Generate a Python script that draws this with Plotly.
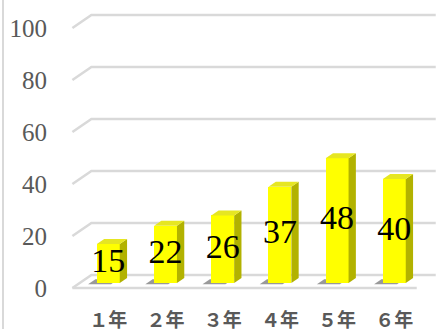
import plotly.graph_objects as go

# ---- data ----
categories = ["１年", "２年", "３年", "４年", "５年", "６年"]
values = [15, 22, 26, 37, 48, 40]
y_ticks = [0, 20, 40, 60, 80, 100]

# ---- figure geometry ----
W, H = 440, 329
ML, MB = 55, 29            # left / bottom margins (px)
PX_X = 57.2                # px per category step
PX_Y = 2.6                 # px per value unit
FLOOR_X_PX, FLOOR_Y_PX = 101, 288   # pixel of world (0, 0) on the front floor edge

# oblique projection of depth d in [0, 1] (front wall -> back wall)
DX = 19 / PX_X
DY = 13 / PX_Y
D0, D1 = 0.385, 0.77       # bar depth span
BAR_W = 0.40
WALL_L, WALL_R = -0.5, 5.52

x0 = -(FLOOR_X_PX - ML) / PX_X
x1 = x0 + (W - ML) / PX_X
y0 = -(H - MB - FLOOR_Y_PX) / PX_Y
y1 = y0 + (H - MB) / PX_Y

GRID = "#D9D9D9"
FRONT = "#FFFF00"
SIDE = "#B2B200"
TOP = "#E6E622"
SERIF = "Liberation Serif, Times New Roman, DejaVu Serif, serif"


def proj(x, y, d):
    return x + DX * d, y + DY * d


shapes = []
# back-wall gridlines with their left-wall diagonal
for v in y_ticks:
    ax, ay = proj(WALL_L, v, 0)
    bx, by = proj(WALL_L, v, 1)
    cx, cy = proj(WALL_R, v, 1)
    shapes.append(dict(type="path", xref="x", yref="y", layer="below",
                       path=f"M {ax},{ay} L {bx},{by} L {cx},{cy}",
                       line=dict(color=GRID, width=2.5)))
# front edge of the floor
fx0, fy0 = proj(WALL_L, 0, 0)
fx1, fy1 = proj(WALL_R, 0, 0)
shapes.append(dict(type="line", xref="x", yref="y", layer="below",
                   x0=fx0, y0=fy0, x1=fx1, y1=fy1,
                   line=dict(color=GRID, width=2.5)))

# soft shadows on the floor, slightly to the front-left of each bar
for k in range(len(values)):
    xl, xr = k - BAR_W / 2 - 0.12, k + BAR_W / 2 - 0.12
    da, db = D0 - 0.1, D1 - 0.1
    pts = [proj(xl, 0, da), proj(xr, 0, da), proj(xr, 0, db), proj(xl, 0, db)]
    path = "M " + " L ".join(f"{px},{py}" for px, py in pts) + " Z"
    shapes.append(dict(type="path", xref="x", yref="y", layer="below",
                       path=path, fillcolor="rgba(70,70,70,0.55)",
                       line=dict(width=0)))

# thin frame line at the left edge of the chart area
plot_w = W - ML
plot_h = H - MB
shapes.append(dict(type="line", xref="paper", yref="paper",
                   x0=(3 - ML) / plot_w, x1=(3 - ML) / plot_w,
                   y0=-MB / plot_h, y1=1,
                   line=dict(color=GRID, width=2)))

fig = go.Figure()

# front faces of the columns
front_x = [proj(k, 0, D0)[0] for k in range(len(values))]
fig.add_trace(go.Bar(
    x=front_x, y=values, base=DY * D0, width=BAR_W,
    marker=dict(color=FRONT, line=dict(width=0)),
    hoverinfo="skip", showlegend=False,
))

# side and top faces
for k, v in enumerate(values):
    xl, xr = k - BAR_W / 2, k + BAR_W / 2
    side = [proj(xr, 0, D0), proj(xr, v, D0), proj(xr, v, D1), proj(xr, 0, D1), proj(xr, 0, D0)]
    top = [proj(xl, v, D0), proj(xr, v, D0), proj(xr, v, D1), proj(xl, v, D1), proj(xl, v, D0)]
    for pts, col in ((side, SIDE), (top, TOP)):
        fig.add_trace(go.Scatter(
            x=[p[0] for p in pts], y=[p[1] for p in pts],
            mode="lines", fill="toself", fillcolor=col,
            line=dict(width=0, color=col),
            hoverinfo="skip", showlegend=False,
        ))

# value labels centred on each front face
fig.add_trace(go.Scatter(
    x=front_x, y=[DY * D0 + v / 2 for v in values],
    mode="text", text=[str(v) for v in values],
    textposition="middle center",
    textfont=dict(family=SERIF, size=34, color="#000000"),
    hoverinfo="skip", showlegend=False,
))

fig.update_layout(
    width=W, height=H,
    margin=dict(l=ML, r=0, t=0, b=MB, autoexpand=False),
    paper_bgcolor="white", plot_bgcolor="white",
    shapes=shapes,
    xaxis=dict(range=[x0, x1], showgrid=False, zeroline=False, showline=False,
               automargin=False,
               tickmode="array", tickvals=front_x, ticktext=categories,
               ticks="outside", ticklen=3, tickcolor="rgba(0,0,0,0)",
               tickfont=dict(family="Noto Sans CJK JP", size=19, color="#595959",
                             weight="bold"),
               fixedrange=True),
    yaxis=dict(range=[y0, y1], showgrid=False, zeroline=False, showline=False,
               automargin=False,
               tickmode="array", tickvals=y_ticks,
               ticks="outside", ticklen=2, tickcolor="rgba(0,0,0,0)",
               tickfont=dict(family=SERIF, size=25, color="#595959"),
               fixedrange=True),
    bargap=0,
)

fig.write_html("out.html")
